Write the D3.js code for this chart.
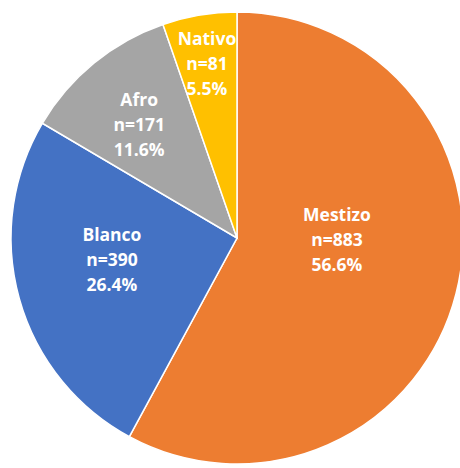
<!DOCTYPE html>
<html>
<head>
  <meta charset="utf-8">
  <style>
    body { margin: 0; background: #fff; }
    .label {
      fill: #fff;
      font-family: "Open Sans", sans-serif;
      font-weight: 700;
      font-size: 17.5px;
    }
  </style>
  <script src="https://d3js.org/d3.v7.min.js"></script>
</head>
<body>
  <div id="chart"></div>
  <script>
  // data
  var categories = ["Mestizo", "Blanco", "Afro", "Nativo"];
  var counts = [883, 390, 171, 81];
  var percents = ["56.6%", "26.4%", "11.6%", "5.5%"];
  var colors = ["#ed7d31", "#4472c4", "#a5a5a5", "#ffc000"];

  // label placement (radius from centre, angle shift from slice middle, degrees)
  var labelRadius = [100, 127, 150, 177];
  var labelShift = [-13.5, 5.5, -1.4, -0.2];

  var width = 460, height = 468;
  var cx = 237, cy = 238, radius = 226;

  var svg = d3.select("#chart").append("svg")
      .attr("width", width)
      .attr("height", height)
    .append("g")
      .attr("transform", "translate(" + cx + "," + cy + ")");

  var data = categories.map(function(c, i) {
    return {name: c, n: counts[i], pct: percents[i], i: i};
  });

  var pie = d3.pie()
      .sort(null)
      .value(function(d) { return d.n; });

  var arc = d3.arc()
      .innerRadius(0)
      .outerRadius(radius);

  var arcs = pie(data);

  svg.selectAll("path")
      .data(arcs)
    .enter().append("path")
      .attr("d", arc)
      .attr("fill", function(d) { return colors[d.data.i]; })
      .attr("stroke", "#fff")
      .attr("stroke-width", 1.5);

  var labels = svg.selectAll(".label")
      .data(arcs)
    .enter().append("text")
      .attr("class", "label")
      .attr("text-anchor", "middle")
      .attr("transform", function(d) {
        var i = d.data.i;
        var a = (d.startAngle + d.endAngle) / 2 + labelShift[i] * Math.PI / 180;
        var r = labelRadius[i];
        return "translate(" + (r * Math.sin(a)) + "," + (-r * Math.cos(a)) + ")";
      });

  labels.each(function(d) {
    var t = d3.select(this);
    var lines = [d.data.name, "n=" + d.data.n, d.data.pct];
    lines.forEach(function(s, k) {
      t.append("tspan")
        .attr("x", 0)
        .attr("y", (k - 1) * 25)
        .attr("dy", "0.36em")
        .text(s);
    });
  });
  </script>
</body>
</html>
